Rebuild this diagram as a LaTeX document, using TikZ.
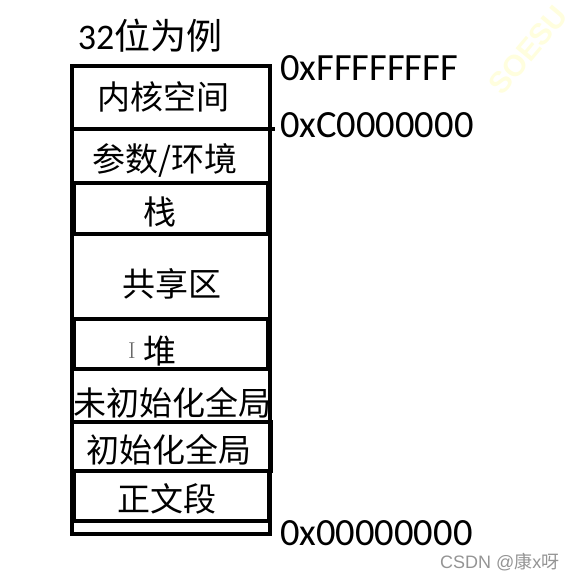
\documentclass[tikz,border=0pt]{standalone}
\usepackage{fontspec}
\setmainfont{Carlito}
\newfontfamily\cjk{Noto Sans CJK SC}
\newfontfamily\wmfont{Liberation Sans}
\begin{document}
\begin{tikzpicture}[x=1pt,y=-1pt,
  frame/.style={line width=3.2pt},
  cell/.style={font=\cjk\fontsize{33}{33}\selectfont, inner sep=0pt, anchor=center},
  addr/.style={font=\fontsize{38.5}{38.5}\selectfont, inner sep=0pt, anchor=west},
  wmark/.style={font=\wmfont\fontsize{18}{18}\selectfont, text=black!42, inner sep=0pt}]
\useasboundingbox (0,0) rectangle (576,581);
% faint watermark
\node[font=\wmfont\bfseries\fontsize{30}{30}\selectfont, text={rgb,255:red,255;green,254;blue,222}, rotate=50, inner sep=0pt] (wm) at (528,50) {SOESU};
% frame
\draw[frame] (72,66) rectangle (270,534);
\coordinate (kl) at (72,129);
\coordinate (kr) at (275,129);
\draw[frame] (kl) -- (kr);
\draw[frame] (74,183) rectangle (268,234);
\draw[frame] (74,319) rectangle (268,369);
\draw[frame] (72,422) rectangle (271,471);
\draw[frame] (74,471) rectangle (269,521);
% texts
\node[font=\fontsize{36}{36}\selectfont, inner sep=0pt] (title) at (150,36) {32{\cjk 位为例}};
\node[cell] (kern) at (163,97) {内核空间};
\node[cell] (args) at (165,160) {参数/环境};
\node[cell] (stack) at (160,212) {栈};
\node[cell] (shared) at (172,284) {共享区};
\node[cell] (heap) at (160,351) {堆};
\node[font=\fontfamily{lmr}\fontsize{23}{23}\selectfont, text=black!60, inner sep=0pt] (cursor) at (132,351) {I};
\node[cell] (bss) at (172,403) {未初始化全局};
\node[cell] (data) at (169,450) {初始化全局};
\node[cell] (text) at (167,499) {正文段};
\node[addr] (a1) at (280,68) {0xFFFFFFFF};
\node[addr] (a2) at (280,125) {0xC0000000};
\node[addr] (a3) at (280,533) {0x00000000};
\node[wmark, anchor=west] (csdn) at (440,562) {CSDN @{\cjk 康}x{\cjk 呀}};
\end{tikzpicture}
\end{document}
